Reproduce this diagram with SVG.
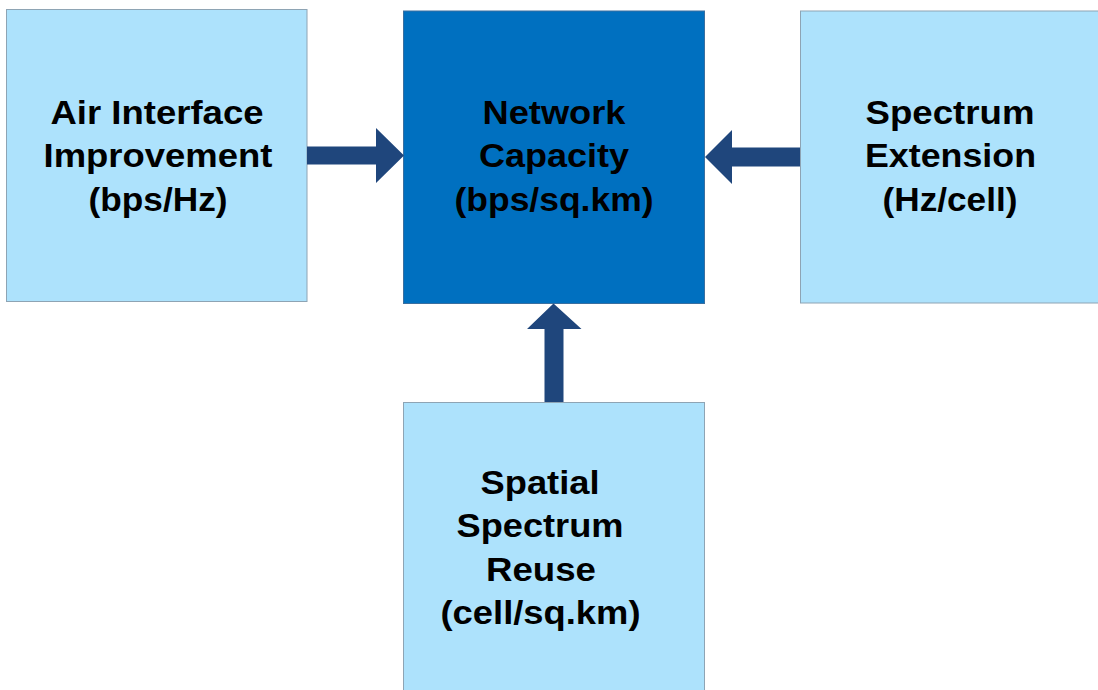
<svg xmlns="http://www.w3.org/2000/svg" width="1098" height="690" viewBox="0 0 1098 690">
<style>
.lb{fill:#ADE2FC;stroke:#8EA4B4;stroke-width:1}
.db{fill:#0070C0;stroke:#3A6FA0;stroke-width:1}
.t{font-family:"Liberation Sans",Arial,sans-serif;font-weight:bold;font-size:32.5px;fill:#000;text-anchor:middle}
.ar{fill:#1F467C}
</style>
<rect width="1098" height="690" fill="#fff"/>
<g id="air-interface">
<rect class="lb" x="6.5" y="9.5" width="300.5" height="292"/>
<text class="t" x="157" y="123.5" textLength="213" lengthAdjust="spacingAndGlyphs">Air Interface</text>
<text class="t" x="158" y="167" textLength="229" lengthAdjust="spacingAndGlyphs">Improvement</text>
<text class="t" x="158" y="210.5" textLength="139" lengthAdjust="spacingAndGlyphs">(bps/Hz)</text>
</g>
<g id="network-capacity">
<rect class="db" x="403.5" y="11" width="301" height="292.5"/>
<text class="t" x="554" y="123.5" textLength="143" lengthAdjust="spacingAndGlyphs">Network</text>
<text class="t" x="554" y="167" textLength="150" lengthAdjust="spacingAndGlyphs">Capacity</text>
<text class="t" x="554" y="210.5" textLength="199" lengthAdjust="spacingAndGlyphs">(bps/sq.km)</text>
</g>
<g id="spectrum-extension">
<rect class="lb" x="800.5" y="11" width="300" height="292"/>
<text class="t" x="950" y="123.5" textLength="169" lengthAdjust="spacingAndGlyphs">Spectrum</text>
<text class="t" x="950.5" y="167" textLength="171" lengthAdjust="spacingAndGlyphs">Extension</text>
<text class="t" x="950" y="210.5" textLength="135" lengthAdjust="spacingAndGlyphs">(Hz/cell)</text>
</g>
<g id="spatial-reuse">
<rect class="lb" x="403.5" y="402.5" width="301" height="292"/>
<text class="t" x="540" y="493.5" textLength="119" lengthAdjust="spacingAndGlyphs">Spatial</text>
<text class="t" x="540" y="537" textLength="167" lengthAdjust="spacingAndGlyphs">Spectrum</text>
<text class="t" x="541" y="580.5" textLength="110" lengthAdjust="spacingAndGlyphs">Reuse</text>
<text class="t" x="540.5" y="624" textLength="200" lengthAdjust="spacingAndGlyphs">(cell/sq.km)</text>
</g>
<g id="connectors">
<polygon class="ar" points="307,146.5 376,146.5 376,128 404,155.5 376,183 376,164.5 307,164.5"/>
<polygon class="ar" points="800,147.5 732,147.5 732,130 705,157 732,184 732,166.5 800,166.5"/>
<polygon class="ar" points="544.5,402 544.5,329 527,329 553.5,303.5 581.5,329 563.5,329 563.5,402"/>
</g>
</svg>
